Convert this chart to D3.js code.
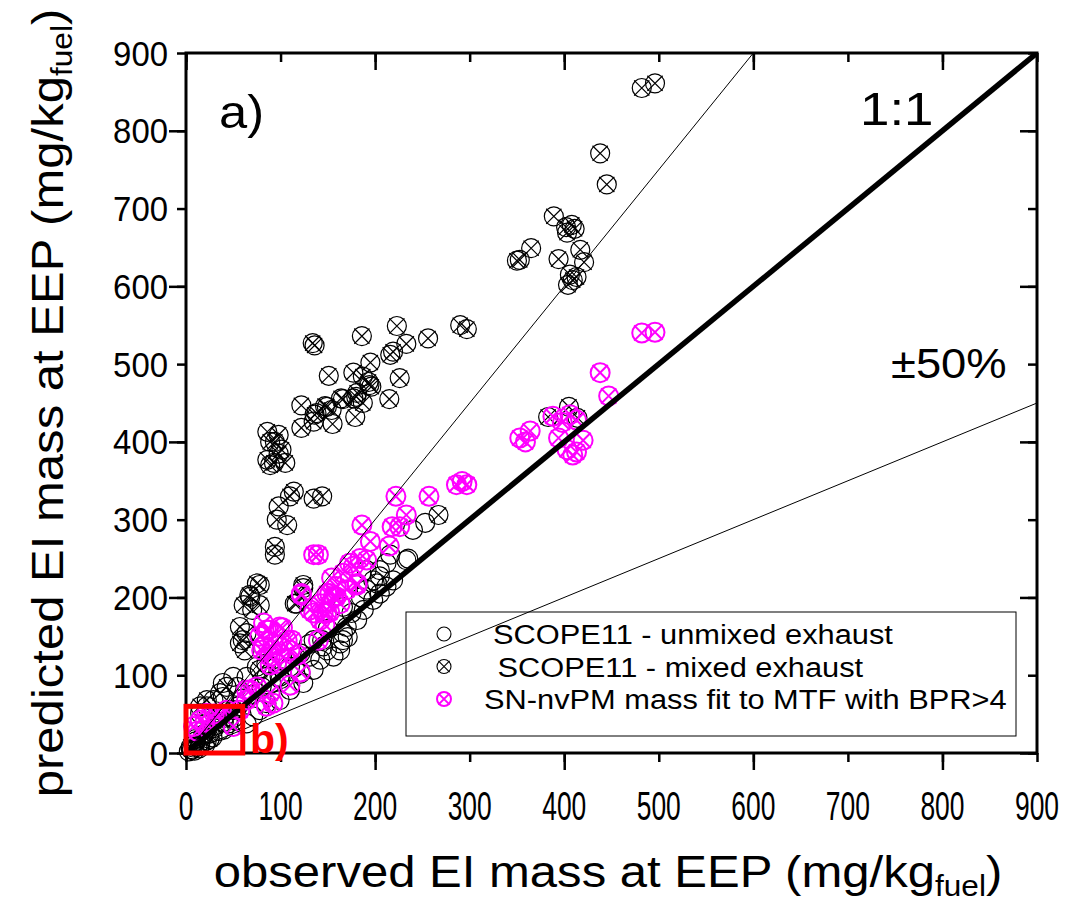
<!DOCTYPE html>
<html lang="en">
<head>
<meta charset="UTF-8" />
<title>predicted vs observed EI mass at EEP</title>
<style>
  body { margin: 0; background: #fff; }
  svg text { font-family: "Liberation Sans", Arial, sans-serif; fill: #000; }
</style>
</head>
<body>
<svg width="1076" height="905"></svg>
<script src="https://d3js.org/d3.v7.min.js"></script>
<script>
// ---- data (observed, predicted) in mg/kg_fuel ----
var unmixed = [
  [3,2],[6,4],[9,3],[14,6],[20,10],[35,28],[40,30],[45,38],[52,42],
  [5,5],[8,10],[12,8],[15,14],[10,18],[18,22],[22,16],[25,25],[28,20],[30,32],
  [15,51],[22,60],[29,68],[39,72],[39,90],[50,98],[54,85],[64,98],[64,38],[71,47],
  [78,55],[85,64],[99,68],[110,81],[124,90],[121,102],[135,107],[142,120],[156,124],[163,141],
  [166,154],[166,145],[170,162],[181,171],[188,184],[198,197],[205,205],[212,214],[219,222],[205,235],
  [212,244],[233,248],[191,210],[198,222],[166,188],[191,235],[216,255],[235,250],[205,227],[202,218],
  [240,287],[253,296],[171,149],[144,145],[145,137],[131,124],[121,128],[110,111],[99,98],[85,98],
  [75,111],[149,132],[135,145],[163,132],[40,40],[50,45],[55,60],[60,70],[45,55],[35,45],
  [70,75],[80,85],[90,90],[100,95],[115,110],[130,140],[150,160],[175,180],[185,200]
];
var mixed = [
  [482,855],[496,861],[438,771],[445,731],
  [389,690],[402,676],[408,679],[411,674],[403,669],[365,649],[353,634],[350,633],[394,635],[417,647],
  [421,631],[406,615],[409,608],[404,602],[413,612],
  [383,432],[405,445],[414,431],
  [134,527],[136,524],[186,536],[223,549],[256,533],[290,550],[297,545],
  [151,485],[177,489],[195,502],[219,516],[233,526],[216,512],[226,482],[215,455],[187,484],[194,473],
  [193,477],[196,471],[180,458],[181,463],[177,456],[187,450],[179,432],[166,455],[164,456],[154,441],
  [149,445],[147,446],[136,435],[138,437],[135,426],[122,447],[122,418],[155,423],
  [86,413],[98,409],[94,400],[89,400],[101,390],[98,385],[86,377],[105,373],[89,370],[93,373],
  [114,336],[110,330],[135,327],[144,330],[98,317],[107,293],[96,300],[94,265],[94,255],
  [78,216],[67,203],[68,201],[70,184],[124,216],[124,212],[117,192],[115,192],[61,190],[78,190],
  [57,162],[64,154],[57,141],[62,132],[60,145],[75,218],
  [267,306],
  [78,107],[64,81],[36,77],[22,68],[15,60],[43,85],[85,115],
  [10,15],[20,25],[30,35],[5,8],[15,10],[25,18],[40,45],[50,55]
];
var snFit = [
  [482,540],[496,541],[438,489],[447,459],[353,405],[364,414],[359,400],[388,433],[398,425],[406,435],
  [413,428],[394,405],[420,402],[403,390],[413,387],[409,383],[292,349],[297,345],[286,345],[222,330],
  [257,330],
  [135,255],[140,255],[186,293],[218,291],[226,291],[233,306],[195,272],[215,266],[184,250],[177,240],
  [154,225],[166,231],[122,205],[181,216],[152,205],[191,248],[173,244],[181,218],[159,201],[149,205],
  [135,180],[142,171],[131,184],[122,203],[156,201],[163,192],[145,180],[142,192],[159,214],[170,210],
  [149,180],[147,165],[140,145],[152,181],
  [85,158],[92,141],[99,162],[107,145],[99,128],[96,115],[110,132],[89,124],[82,137],[78,150],
  [82,167],[87,158],[102,161],[80,132],[97,139],[112,145],[89,113],[105,120],[118,126],[121,104],
  [110,87],
  [75,85],[89,77],[85,60],[68,81],[64,68],[92,64],[57,55],[64,81],
  [15,42],[8,34],[22,51],[43,55],[33,47],[50,34],[20,40],[30,50],[12,28]
];
var seriesNames = ["SCOPE11 - unmixed exhaust", " SCOPE11 - mixed exhaust", "SN-nvPM mass fit to MTF with BPR>4"];
var tickValues = [0,100,200,300,400,500,600,700,800,900];
var majorTicks = [0,200,400,600,800];
var refSlopes = [1.5, 0.5];     // +-50% lines
var zoomBox = [0, 60];          // region shown in panel b)

var svg = d3.select("svg");
var x = d3.scaleLinear().domain([0, 900]).range([186, 1037]);
var y = d3.scaleLinear().domain([0, 900]).range([753, 53]);

var R = 9.5;
function circleMarker(sel, color, sw, cross, r) {
  sel.append("circle").attr("r", r).attr("fill", "none").attr("stroke", color).attr("stroke-width", sw);
  if (cross) {
    var a = r * 0.8;
    sel.append("path").attr("d", "M" + (-a) + "," + (-a) + "L" + a + "," + a + "M" + (-a) + "," + a + "L" + a + "," + (-a))
      .attr("stroke", color).attr("stroke-width", sw).attr("fill", "none");
  }
}

var pts = svg.append("g");
function drawSeries(data, color, sw, cross) {
  pts.append("g").selectAll("g").data(data).enter().append("g")
    .attr("transform", function(d) { return "translate(" + x(d[0]) + "," + y(d[1]) + ")"; })
    .each(function() { circleMarker(d3.select(this), color, sw, cross, R); });
}
drawSeries(unmixed, "#000", 1.2, false);
drawSeries(mixed, "#000", 1.2, true);
drawSeries(snFit, "#ff00ff", 2, true);

// reference lines
svg.append("clipPath").attr("id", "clip").append("rect")
  .attr("x", x(0)).attr("y", y(900)).attr("width", x(900) - x(0)).attr("height", y(0) - y(900));
var lines = svg.append("g").attr("clip-path", "url(#clip)");
refSlopes.forEach(function(s) {
  lines.append("line").attr("x1", x(0)).attr("y1", y(0)).attr("x2", x(900)).attr("y2", y(900 * s))
    .attr("stroke", "#000").attr("stroke-width", 1);
});
lines.append("line").attr("x1", x(0)).attr("y1", y(0)).attr("x2", x(900)).attr("y2", y(900))
  .attr("stroke", "#000").attr("stroke-width", 5.5);

// axes: minor + major ticks on all four sides
function styleAxis(g) {
  g.select(".domain").remove();
  g.selectAll(".tick line").attr("stroke", "#000").attr("stroke-width", 2.5);
}
function addTicks(axisFn, pos, horizontal) {
  var sc = horizontal ? x : y;
  var tr = horizontal ? "translate(0," + pos + ")" : "translate(" + pos + ",0)";
  svg.append("g").attr("transform", tr)
    .call(axisFn(sc).tickValues(tickValues).tickSize(9).tickFormat("")).call(styleAxis);
  svg.append("g").attr("transform", tr)
    .call(axisFn(sc).tickValues(majorTicks).tickSize(17).tickFormat("")).call(styleAxis);
}
addTicks(d3.axisBottom, y(0), true);
addTicks(d3.axisBottom, y(900), true);
addTicks(d3.axisLeft, x(0), false);
addTicks(d3.axisLeft, x(900), false);

svg.append("rect").attr("x", x(0)).attr("y", y(900)).attr("width", x(900) - x(0)).attr("height", y(0) - y(900))
  .attr("fill", "none").attr("stroke", "#000").attr("stroke-width", 3);

// tick labels
svg.append("g").selectAll("text").data(tickValues).enter().append("text")
  .attr("transform", function(d) { return "translate(" + x(d) + ",820) scale(0.66,1)"; })
  .attr("text-anchor", "middle").attr("font-size", 40)
  .text(function(d) { return d; });
svg.append("g").selectAll("text").data(tickValues).enter().append("text")
  .attr("transform", function(d) { return "translate(168," + y(d) + ") scale(0.94,1)"; })
  .attr("dy", "0.36em")
  .attr("text-anchor", "end").attr("font-size", 35)
  .text(function(d) { return d; });

// axis titles
function axisTitle(tr, label) {
  var t = svg.append("text").attr("transform", tr).attr("text-anchor", "middle").attr("font-size", 45);
  t.append("tspan").text(label);
  t.append("tspan").attr("font-size", 29).attr("dy", 9).text("fuel");
  t.append("tspan").attr("dy", -9).text(")");
}
axisTitle("translate(608,887) scale(1.09,1)", "observed EI mass at EEP (mg/kg");
axisTitle("translate(63,403) rotate(-90) scale(1.09,1)", "predicted EI mass at EEP (mg/kg");

// annotations
svg.append("text").attr("transform", "translate(219,128) scale(1.1,1)").attr("font-size", 46).text("a)");
svg.append("text").attr("transform", "translate(860,125) scale(1.15,1)").attr("font-size", 46).text("1:1");
svg.append("text").attr("transform", "translate(891,378) scale(1.08,1)").attr("font-size", 42).text("\u00b150%");

// b) box
svg.append("rect").attr("x", x(zoomBox[0])).attr("y", y(zoomBox[1]))
  .attr("width", x(zoomBox[1]) - x(zoomBox[0])).attr("height", y(zoomBox[0]) - y(zoomBox[1]))
  .attr("fill", "none").attr("stroke", "#ff0000").attr("stroke-width", 5);
svg.append("text").attr("x", 250).attr("y", 753).attr("font-size", 41).attr("font-weight", "bold")
  .style("fill", "#ff0000").text("b)");

// legend
var lg = svg.append("g");
lg.append("rect").attr("x", 406).attr("y", 612).attr("width", 610).attr("height", 124)
  .attr("fill", "none").attr("stroke", "#000").attr("stroke-width", 1);
var legItems = [
  {name: seriesNames[0], color: "#000", sw: 1.1, cross: false, tx: 493},
  {name: seriesNames[1], color: "#000", sw: 1.1, cross: true, tx: 489},
  {name: seriesNames[2], color: "#ff00ff", sw: 2, cross: true, tx: 484}
];
legItems.forEach(function(it, i) {
  var cy = 634 + i * 32.5;
  var m = lg.append("g").attr("transform", "translate(444," + cy + ")");
  circleMarker(m, it.color, it.sw, it.cross, 7);
  lg.append("text").attr("transform", "translate(" + it.tx + "," + cy + ") scale(1.1,1)")
    .attr("dy", "0.36em").attr("font-size", 28)
    .attr("xml:space", "preserve").style("white-space", "pre").text(it.name);
});
</script>
</body>
</html>
